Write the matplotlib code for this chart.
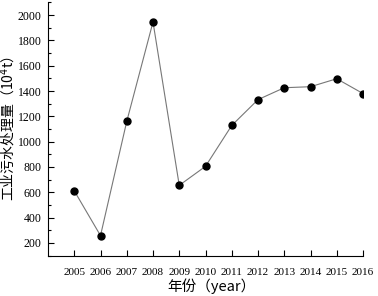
import matplotlib.pyplot as plt
from matplotlib.ticker import MultipleLocator

years = [2005, 2006, 2007, 2008, 2009, 2010, 2011, 2012, 2013, 2014, 2015, 2016]
values = [612, 258, 1160, 1945, 655, 805, 1128, 1332, 1426, 1434, 1497, 1380]

plt.rcParams['font.family'] = ['Liberation Serif', 'Noto Sans CJK SC']
cjk = ['Noto Sans CJK SC', 'Liberation Serif']

fig = plt.figure(figsize=(3.78, 2.96), dpi=100)
ax = fig.add_axes([48 / 378, 40 / 296, 315 / 378, 254 / 296])

ax.plot(years, values, color='#777777', linewidth=0.8, marker='o',
        markersize=5, markerfacecolor='black', markeredgecolor='black')

ax.set_xlim(2004, 2016)
ax.set_ylim(97, 2103)
ax.set_xticks(years)
ax.set_xticklabels([str(y) for y in years], fontsize=8)
ax.set_yticks(range(200, 2001, 200))
ax.yaxis.set_minor_locator(MultipleLocator(100))
ax.tick_params(axis='y', which='major', direction='in', length=4, width=0.8,
               labelsize=8.5, pad=4.5)
ax.tick_params(axis='y', which='minor', direction='in', length=2, width=0.8)
ax.tick_params(axis='x', direction='in', length=4, width=0.8, pad=8.5)

for s in ['top', 'right']:
    ax.spines[s].set_visible(False)
for s in ['left', 'bottom']:
    ax.spines[s].set_linewidth(0.8)

ax.set_ylabel('工业污水处理量（10$^4$t）', fontsize=10, family=cjk)
ax.yaxis.set_label_coords(-30 / 315, 0.5)
ax.set_xlabel('年份（year）', fontsize=10.5, family=cjk)
ax.xaxis.set_label_coords(0.52, -22 / 254)

fig.savefig('out.png', dpi=100)
